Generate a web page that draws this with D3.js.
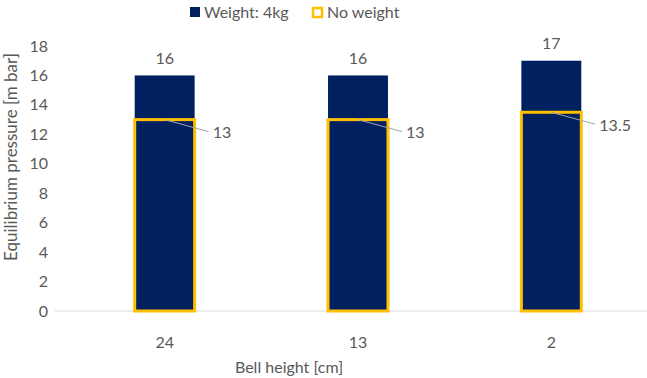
<!DOCTYPE html>
<html>
<head>
<meta charset="utf-8">
<script src="https://cdn.jsdelivr.net/npm/d3@7"></script>
<style>
  body { margin: 0; background: #fff; }
  svg text { font-family: Lato, "Open Sans", sans-serif; fill: #595959; }
</style>
</head>
<body>
<div id="chart"></div>
<script>
// Chart data
const categories = ['24', '13', '2'];
const weightValues = [16, 16, 17];
const noWeightValues = [13, 13, 13.5];
const yTicks = [0, 2, 4, 6, 8, 10, 12, 14, 16, 18];
const seriesNames = ['Weight: 4kg', 'No weight'];

const width = 647, height = 378;
const navy = '#002060', gold = '#FFC000';

const svg = d3.select('#chart')
    .append('svg')
    .attr('width', width)
    .attr('height', height);

const x = d3.scaleBand()
    .domain(categories)
    .range([68, 648])
    .paddingInner(0.69)
    .paddingOuter(0.345);

const y = d3.scaleLinear()
    .domain([0, 18])
    .range([311, 46]);

// y axis tick labels
svg.append('g')
    .selectAll('text')
    .data(yTicks)
    .enter()
    .append('text')
    .attr('x', 48)
    .attr('y', d => y(d))
    .attr('dy', '0.35em')
    .attr('text-anchor', 'end')
    .style('font-size', '16px')
    .text(d => d);

// baseline
svg.append('line')
    .attr('x1', 55)
    .attr('x2', 647)
    .attr('y1', y(0))
    .attr('y2', y(0))
    .attr('stroke', '#d9d9d9')
    .attr('stroke-width', 1);

// x labels
svg.append('g')
    .selectAll('text')
    .data(categories)
    .enter()
    .append('text')
    .attr('x', d => x(d) + x.bandwidth() / 2)
    .attr('y', 342)
    .attr('dy', '0.35em')
    .attr('text-anchor', 'middle')
    .style('font-size', '16px')
    .text(d => d);

// axis titles
svg.append('text')
    .attr('x', 289)
    .attr('y', 367)
    .attr('dy', '0.35em')
    .attr('text-anchor', 'middle')
    .style('font-size', '16px')
    .text('Bell height [cm]');

svg.append('text')
    .attr('transform', 'translate(11, 157) rotate(-90)')
    .attr('dy', '0.35em')
    .attr('text-anchor', 'middle')
    .style('font-size', '17px')
    .text('Equilibrium pressure [m bar]');

// weight bars
svg.append('g')
    .selectAll('rect')
    .data(weightValues)
    .enter()
    .append('rect')
    .attr('x', (d, i) => x(categories[i]))
    .attr('y', d => y(d))
    .attr('width', x.bandwidth())
    .attr('height', d => y(0) - y(d))
    .attr('fill', navy);

// no weight bars (outline only)
svg.append('g')
    .selectAll('rect')
    .data(noWeightValues)
    .enter()
    .append('rect')
    .attr('x', (d, i) => x(categories[i]))
    .attr('y', d => y(d))
    .attr('width', x.bandwidth())
    .attr('height', d => y(0) - y(d))
    .attr('fill', 'none')
    .attr('stroke', gold)
    .attr('stroke-width', 3);

// weight labels
svg.append('g')
    .selectAll('text')
    .data(weightValues)
    .enter()
    .append('text')
    .attr('x', (d, i) => x(categories[i]) + x.bandwidth() / 2)
    .attr('y', d => y(d) - 17)
    .attr('dy', '0.35em')
    .attr('text-anchor', 'middle')
    .style('font-size', '16px')
    .text(d => d);

// no weight labels with leader lines
const nw = svg.append('g')
    .selectAll('g')
    .data(noWeightValues)
    .enter()
    .append('g');

nw.append('line')
    .attr('x1', (d, i) => x(categories[i]) + x.bandwidth() / 2)
    .attr('y1', d => y(d))
    .attr('x2', (d, i) => x(categories[i]) + x.bandwidth() / 2 + 44)
    .attr('y2', d => y(d) + 12)
    .attr('stroke', '#a6a6a6')
    .attr('stroke-width', 1);

nw.append('text')
    .attr('x', (d, i) => x(categories[i]) + x.bandwidth() / 2 + 48)
    .attr('y', d => y(d) + 13)
    .attr('dy', '0.35em')
    .style('font-size', '16px')
    .text(d => d);

// legend
const legend = svg.append('g');
legend.append('rect')
    .attr('x', 190).attr('y', 7)
    .attr('width', 10).attr('height', 10)
    .attr('fill', navy);
legend.append('text')
    .attr('x', 204).attr('y', 12)
    .attr('dy', '0.35em')
    .style('font-size', '16px')
    .text(seriesNames[0]);
legend.append('rect')
    .attr('x', 313).attr('y', 8)
    .attr('width', 9).attr('height', 9)
    .attr('fill', '#fff')
    .attr('stroke', gold)
    .attr('stroke-width', 2.5);
legend.append('text')
    .attr('x', 327).attr('y', 12)
    .attr('dy', '0.35em')
    .style('font-size', '16px')
    .text(seriesNames[1]);
</script>
</body>
</html>
